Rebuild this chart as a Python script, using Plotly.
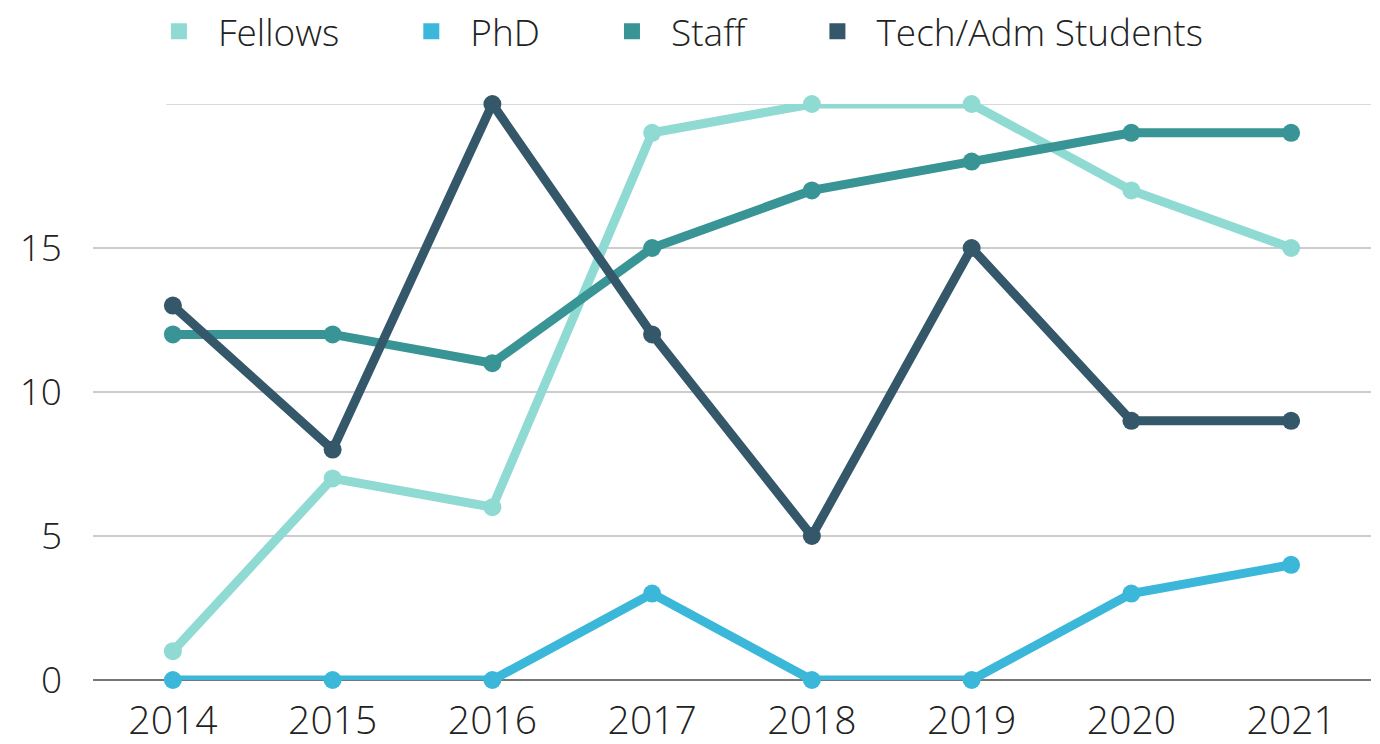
import plotly.graph_objects as go

years = ["2014", "2015", "2016", "2017", "2018", "2019", "2020", "2021"]
fellows = [1, 7, 6, 19, 20, 20, 17, 15]
phd = [0, 0, 0, 3, 0, 0, 3, 4]
staff = [12, 12, 11, 15, 17, 18, 19, 19]
tech_adm = [13, 8, 20, 12, 5, 15, 9, 9]

names = ["Fellows", "PhD", "Staff", "Tech/Adm Students"]
colors = ["#8fdad2", "#3bb8d9", "#389495", "#34576a"]
series = [fellows, phd, staff, tech_adm]

y_ticks = [0, 5, 10, 15]
pad = "\u00a0" * 5  # wider gap between legend entries

fig = go.Figure()
for name, col, vals in zip(names, colors, series):
    fig.add_trace(go.Scatter(x=years, y=vals, mode="lines+markers", name=name,
                             line=dict(color=col, width=9),
                             marker=dict(color=col, size=18),
                             cliponaxis=False, showlegend=False))
# legend entries drawn as squares
for i, (name, col) in enumerate(zip(names, colors)):
    label = name if i == len(names) - 1 else name + pad
    fig.add_trace(go.Scatter(x=[None], y=[None], mode="markers", name=label,
                             marker=dict(color=col, size=26, symbol="square")))

font = "Open Sans, sans-serif"
fig.update_layout(
    width=1380, height=744,
    paper_bgcolor="white", plot_bgcolor="white",
    margin=dict(l=93, r=9, t=104, b=64),
    font=dict(family=font, size=38, color="#222", weight=300),
    legend=dict(orientation="h", x=0.1014, xanchor="left", xref="container",
                y=0.999, yanchor="top", yref="container", itemwidth=68,
                font=dict(size=37, color="#222", weight=300), itemsizing="trace"),
    xaxis=dict(type="category", showgrid=False, ticks="", range=[-0.5, 7.5],
               showline=False, zeroline=False, automargin=False, ticklabelstandoff=14,
               tickfont=dict(size=39)),
    yaxis=dict(range=[0, 20], tickvals=y_ticks, showgrid=True, gridcolor="#cccccc",
               gridwidth=1.5, zeroline=True, zerolinecolor="#777", zerolinewidth=1.5,
               ticks="", ticklabelstandoff=30, showline=False, automargin=False,
               tickfont=dict(size=37)),
)
# top gridline (starts further right in the original)
fig.add_shape(type="line", xref="paper", yref="y", x0=0.0575, x1=1, y0=20, y1=20,
              line=dict(color="#cccccc", width=1.5), layer="below")
fig.write_html("out.html", config={"displayModeBar": False},
               post_script="document.body.style.margin='0px';")
